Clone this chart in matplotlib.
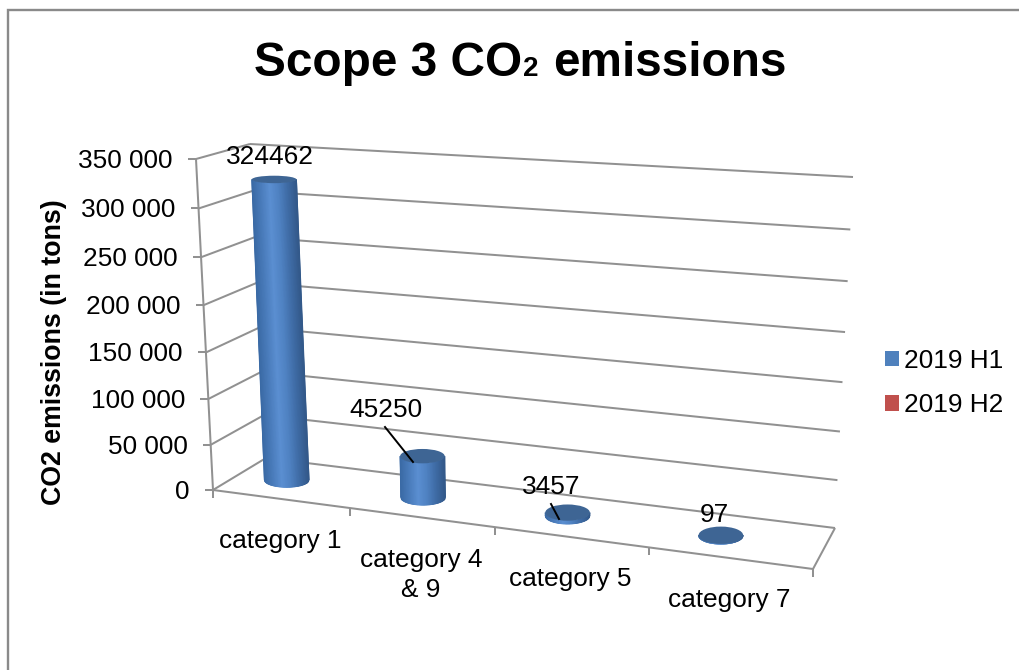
import numpy as np
import matplotlib
matplotlib.use('Agg')
import matplotlib.pyplot as plt
from matplotlib.colors import LinearSegmentedColormap
from matplotlib.patches import Ellipse, Patch

categories = ['category 1', 'category 4\n& 9', 'category 5', 'category 7']
h1_values = [324462, 45250, 3457, 97]
series_names = ['2019 H1', '2019 H2']
value_ticks = [0, 50000, 100000, 150000, 200000, 250000, 300000, 350000]
value_max = 350000

# data label centres and leader lines, in picture pixels
label_pos = [(270, 157), (386, 410), (551, 487), (714, 515)]
leaders = [None, ((385, 427), (413, 462)), ((551, 504), (559, 519)), None]
cat_label_pos = [(280, 541), (421, 575), (570, 579), (729, 600)]

plt.rcParams['font.family'] = ['Liberation Sans', 'DejaVu Sans']
GRID = '#919191'
FS = 18.9

# corners of the 3d box in picture pixels: (front/back, bottom/top, left/right)
CORNERS = {
    (0, 0, 0): (213, 490), (0, 0, 1): (813, 569),
    (1, 0, 0): (266, 458), (1, 0, 1): (835, 528),
    (0, 1, 0): (196, 159), (0, 1, 1): (832, 200),
    (1, 1, 0): (250, 144), (1, 1, 1): (853, 177),
}


def warp(t, k):
    # small perspective squeeze along an axis
    return t / (1 + k * (1 - t))


def project(cat, depth, value):
    tx = warp(cat / len(categories), 0.125)
    tv = warp(value / value_max, 0.055)
    out = np.zeros(2)
    for d, wd in ((0, 1 - depth), (1, depth)):
        for v, wv in ((0, 1 - tv), (1, tv)):
            for x, wx in ((0, 1 - tx), (1, tx)):
                out += wd * wv * wx * np.array(CORNERS[(d, v, x)])
    return out


fig = plt.figure(figsize=(10.19, 6.70), dpi=100)
ax = fig.add_axes([0, 0, 1, 1])
ax.set_xlim(0, 1019)
ax.set_ylim(670, 0)
ax.axis('off')

# outer frame of the chart
ax.plot([8, 8, 1019], [670, 10, 10], color='#8a8a8a', lw=1.7, solid_joinstyle='miter')


def seg(p, q, lw=1.45, color=GRID):
    ax.plot([p[0], q[0]], [p[1], q[1]], color=color, lw=lw, solid_capstyle='butt', zorder=1)


# walls and gridlines
n_cat = len(categories)
seg(project(0, 0, 0), project(0, 0, value_max))
for val in value_ticks:
    a, b, c = project(0, 0, val), project(0, 1, val), project(n_cat, 1, val)
    seg(a, b)
    seg(b, c)
    seg(a + (-8, 0), a)
    ax.text(a[0] - 23, a[1] + 2, f'{val:,}'.replace(',', ' '), ha='right', va='center', fontsize=FS)

# floor and category ticks
seg(project(0, 0, 0), project(n_cat, 0, 0))
seg(project(n_cat, 0, 0), project(n_cat, 1, 0))
for i in range(n_cat + 1):
    p = project(i, 0, 0)
    seg(p, p + (0, 8))
for name, pos in zip(categories, cat_label_pos):
    ax.text(pos[0], pos[1], name, ha='center', va='center', fontsize=FS, linespacing=1.27)

# cylinders for the first series, second series is empty
body_cmap = LinearSegmentedColormap.from_list(
    'body', ['#3a6aa5', '#4a7cbb', '#5b8fd2', '#4f82c2', '#3f6ca6', '#33598a'])
SERIES_OFFSET = 0.36
R_PX = 22.3
RD = 0.22


def half_sizes(cat, val):
    c = project(cat, 0.5, val)
    ry = abs(project(cat, 0.5 + RD, val)[1] - project(cat, 0.5 - RD, val)[1]) / 2
    return c, R_PX, ry


for i, val in enumerate(h1_values):
    cat = i + SERIES_OFFSET
    c0, rx0, ry0 = half_sizes(cat, 0)
    c1, rx1, ry1 = half_sizes(cat, val)
    u = np.linspace(-1, 1, 61)
    arc = np.sqrt(1 - u ** 2)
    X = np.vstack([c1[0] + rx1 * u, c0[0] + rx0 * u])
    Y = np.vstack([c1[1] + ry1 * arc, c0[1] + ry0 * arc])
    C = np.vstack([(u + 1) / 2, (u + 1) / 2])
    ax.pcolormesh(X, Y, C, cmap=body_cmap, shading='gouraud', zorder=2)
    ax.add_patch(Ellipse(c1, 2 * rx1, 2 * ry1, facecolor='#3e6594', edgecolor='none', zorder=3))

# data labels
for val, pos, lead in zip(h1_values, label_pos, leaders):
    if lead is not None:
        ax.plot([lead[0][0], lead[1][0]], [lead[0][1], lead[1][1]], color='black', lw=1.4, zorder=4)
    ax.text(pos[0], pos[1], str(val), ha='center', va='center', fontsize=FS, zorder=5)

# title, the 2 of CO2 is a smaller separate piece
ax.text(254, 76, 'Scope 3 CO', fontsize=34.4, fontweight='bold', ha='left', va='baseline')
ax.text(523, 76, '2', fontsize=20, fontweight='bold', ha='left', va='baseline')
ax.text(787, 76, 'emissions', fontsize=34.4, fontweight='bold', ha='right', va='baseline')

ax.text(54, 352, 'CO2 emissions (in tons)', rotation=90, fontsize=19.3, fontweight='bold',
        ha='center', va='center')

handles = [Patch(facecolor='#4f81bd', label=series_names[0]),
           Patch(facecolor='#c0504d', label=series_names[1])]
ax.legend(handles=handles, loc='center left', bbox_to_anchor=(885, 383), bbox_transform=ax.transData,
          frameon=False, fontsize=FS, handlelength=0.53, handleheight=0.53, handletextpad=0.2,
          labelspacing=0.78, borderpad=0, borderaxespad=0)

fig.savefig('out.png', dpi=100)
